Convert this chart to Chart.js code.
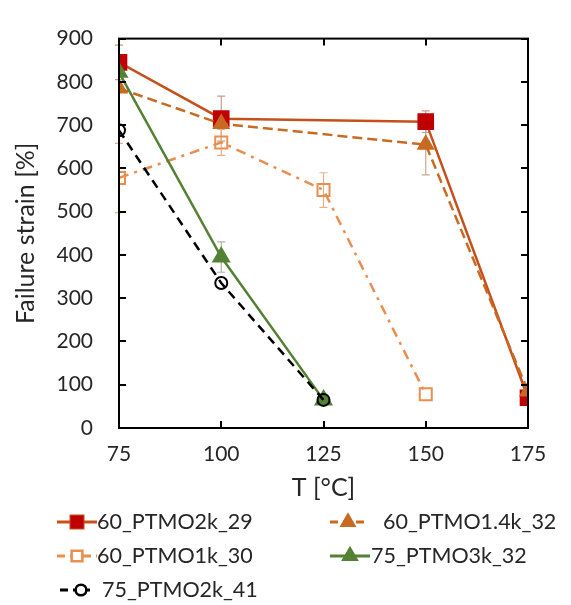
<!DOCTYPE html>
<html lang="en">
<head>
    <meta charset="UTF-8">
    <title>Failure strain vs T</title>
    <style>
        body {
            margin: 0;
            padding: 0;
            background-color: white;
        }
        .chart-box {
            width: 571px;
            height: 605px;
        }
    </style>
</head>
<body>
    <div class="chart-box">
        <canvas id="strainChart"></canvas>
    </div>

    <script src="https://cdn.jsdelivr.net/npm/chart.js"></script>
    <script>
        // Data
        const seriesNames = ['60_PTMO2k_29', '60_PTMO1.4k_32', '60_PTMO1k_30', '75_PTMO3k_32', '75_PTMO2k_41'];
        const tempsA = [75, 100, 150, 175];
        const tempsB = [75, 100, 125, 150];
        const tempsC = [75, 100, 125];

        const strain2k29 = [845, 715, 708, 70];
        const strain14k32 = [785, 703, 655, 85];
        const strain1k30 = [578, 660, 550, 78];
        const strain3k32 = [822, 395, 65];
        const strain2k41 = [688, 335, 65];

        // error bar half-widths (null = none visible)
        const err2k29 = [40, 52, 25, null];
        const err14k32 = [null, null, 70, null];
        const err1k30 = [80, 30, 40, null];
        const err3k32 = [null, 35, null];
        const err2k41 = [null, null, null];

        const xTicks = [75, 100, 125, 150, 175];
        const yTicks = [0, 100, 200, 300, 400, 500, 600, 700, 800, 900];

        const FONT = 'Lato, "Open Sans", sans-serif';

        function points(xs, ys) {
            return xs.map((x, i) => ({ x: x, y: ys[i] }));
        }

        const datasets = [
            {
                label: seriesNames[0], data: points(tempsA, strain2k29), errors: err2k29,
                borderColor: '#C5501A', borderWidth: 2.5, borderDash: [],
                pointStyle: 'rect', pointRadius: 10, pointBackgroundColor: '#C00000', pointBorderColor: '#C00000',
                errColor: '#C79C8C', order: 5
            },
            {
                label: seriesNames[1], data: points(tempsA, strain14k32), errors: err14k32,
                borderColor: '#C96A22', borderWidth: 2.5, borderDash: [10, 5],
                pointStyle: 'triangle', pointRadius: 8, pointBackgroundColor: '#C96A22', pointBorderColor: '#C96A22',
                errColor: '#C9A58C', order: 4
            },
            {
                label: seriesNames[2], data: points(tempsB, strain1k30), errors: err1k30,
                borderColor: '#EA8E4E', borderWidth: 2.5, borderDash: [10, 6, 3, 6],
                pointStyle: 'rect', pointRadius: 8.5, pointBorderWidth: 2, pointBackgroundColor: 'rgba(255,255,255,0)', pointBorderColor: '#EA8E4E',
                errColor: '#E6B08C', order: 3
            },
            {
                label: seriesNames[3], data: points(tempsC, strain3k32), errors: err3k32,
                borderColor: '#548235', borderWidth: 2.5, borderDash: [],
                pointStyle: 'triangle', pointRadius: 8.5, pointBackgroundColor: '#548235', pointBorderColor: '#548235',
                errColor: '#A9B89C', order: 2
            },
            {
                label: seriesNames[4], data: points(tempsC, strain2k41), errors: err2k41,
                borderColor: '#000000', borderWidth: 2.5, borderDash: [9, 6],
                pointStyle: 'circle', pointRadius: 6, pointBorderWidth: 2, pointBackgroundColor: 'rgba(255,255,255,0)', pointBorderColor: '#000000',
                errColor: '#999999', order: 1
            }
        ];
        datasets.forEach(d => { d.fill = false; d.tension = 0; d.showLine = true; });

        // frame + inward ticks on all four sides
        const framePlugin = {
            id: 'frame',
            afterDatasetsDraw(chart) {
                const { ctx, chartArea: a, scales } = chart;
                ctx.save();
                ctx.strokeStyle = '#000';
                ctx.lineWidth = 2;
                ctx.strokeRect(a.left, a.top, a.right - a.left, a.bottom - a.top);
                const len = 7;
                ctx.beginPath();
                xTicks.forEach(v => {
                    const px = Math.round(scales.x.getPixelForValue(v));
                    ctx.moveTo(px, a.bottom); ctx.lineTo(px, a.bottom - len);
                    ctx.moveTo(px, a.top); ctx.lineTo(px, a.top + len);
                });
                yTicks.forEach(v => {
                    const py = Math.round(scales.y.getPixelForValue(v));
                    ctx.moveTo(a.left, py); ctx.lineTo(a.left + len, py);
                    ctx.moveTo(a.right, py); ctx.lineTo(a.right - len, py);
                });
                ctx.stroke();
                ctx.restore();
            }
        };

        // vertical error bars, drawn under the lines
        const errorBarPlugin = {
            id: 'errorBars',
            beforeDatasetsDraw(chart) {
                const { ctx, scales } = chart;
                ctx.save();
                ctx.lineWidth = 1.2;
                chart.data.datasets.forEach(ds => {
                    ctx.strokeStyle = ds.errColor;
                    ds.data.forEach((p, i) => {
                        const e = ds.errors[i];
                        if (e == null) return;
                        const px = scales.x.getPixelForValue(p.x);
                        const top = scales.y.getPixelForValue(p.y + e);
                        const bot = scales.y.getPixelForValue(p.y - e);
                        ctx.beginPath();
                        ctx.moveTo(px, top); ctx.lineTo(px, bot);
                        ctx.moveTo(px - 4, top); ctx.lineTo(px + 4, top);
                        ctx.moveTo(px - 4, bot); ctx.lineTo(px + 4, bot);
                        ctx.stroke();
                    });
                });
                ctx.restore();
            }
        };

        // two-column legend below the axis title
        const legendPlugin = {
            id: 'sideLegend',
            afterDraw(chart) {
                const { ctx } = chart;
                const slots = [
                    { x: 57, w: 40, y: 522, tx: 97 }, { x: 330, w: 36, y: 522, tx: 383 },
                    { x: 57, w: 40, y: 556, tx: 97 }, { x: 330, w: 40, y: 556, tx: 371 },
                    { x: 60, w: 30, y: 590, tx: 102 }
                ];
                ctx.save();
                ctx.font = '21.5px ' + FONT;
                ctx.textBaseline = 'middle';
                ctx.fillStyle = '#262626';
                chart.data.datasets.forEach((ds, i) => {
                    const s = slots[i];
                    ctx.save();
                    ctx.strokeStyle = ds.borderColor;
                    ctx.lineWidth = ds.borderWidth + 0.5;
                    ctx.setLineDash(ds.borderDash.length ? [8, 5] : []);
                    ctx.beginPath();
                    ctx.moveTo(s.x, s.y); ctx.lineTo(s.x + s.w, s.y);
                    ctx.stroke();
                    ctx.setLineDash([]);
                    Chart.helpers.drawPoint(ctx, {
                        pointStyle: ds.pointStyle,
                        radius: ds.pointRadius * 0.85,
                        borderWidth: ds.pointBorderWidth || 1,
                        rotation: 0
                    }, s.x + s.w / 2 + (i === 4 ? 6 : 0), s.y);
                    ctx.fillStyle = ds.pointBackgroundColor === 'rgba(255,255,255,0)' ? '#ffffff' : ds.pointBackgroundColor;
                    ctx.strokeStyle = ds.pointBorderColor;
                    ctx.lineWidth = ds.pointBorderWidth || 1;
                    ctx.fill();
                    ctx.stroke();
                    ctx.restore();
                    ctx.fillText(ds.label, s.tx, s.y);
                });
                ctx.restore();
            }
        };

        const ctx = document.getElementById('strainChart').getContext('2d');
        new Chart(ctx, {
            type: 'scatter',
            data: { datasets: datasets },
            options: {
                responsive: true,
                maintainAspectRatio: false,
                animation: false,
                layout: { padding: { left: 0, top: 23, right: 43, bottom: 102 } },
                plugins: {
                    legend: { display: false },
                    tooltip: { enabled: false }
                },
                scales: {
                    x: {
                        type: 'linear',
                        min: 75,
                        max: 175,
                        afterBuildTicks: s => { s.ticks = xTicks.map(v => ({ value: v })); },
                        afterFit: s => { s.height = 75; },
                        grid: { display: false, drawTicks: false },
                        border: { display: false },
                        ticks: { padding: 14, color: '#262626', font: { family: FONT, size: 21 } },
                        title: {
                            display: true, text: 'T [°C]', color: '#262626',
                            padding: { top: 10, bottom: 0 },
                            font: { family: FONT, size: 25 }
                        }
                    },
                    y: {
                        min: 0,
                        max: 900,
                        afterBuildTicks: s => { s.ticks = yTicks.map(v => ({ value: v })); },
                        afterFit: s => { s.width = 119; },
                        grid: { display: false, drawTicks: false },
                        border: { display: false },
                        ticks: { padding: 26, color: '#262626', font: { family: FONT, size: 21 } },
                        title: {
                            display: true, text: 'Failure strain [%]', color: '#262626',
                            padding: { top: 11, bottom: 0 },
                            font: { family: FONT, size: 25 }
                        }
                    }
                }
            },
            plugins: [errorBarPlugin, framePlugin, legendPlugin]
        });
    </script>
</body>
</html>
